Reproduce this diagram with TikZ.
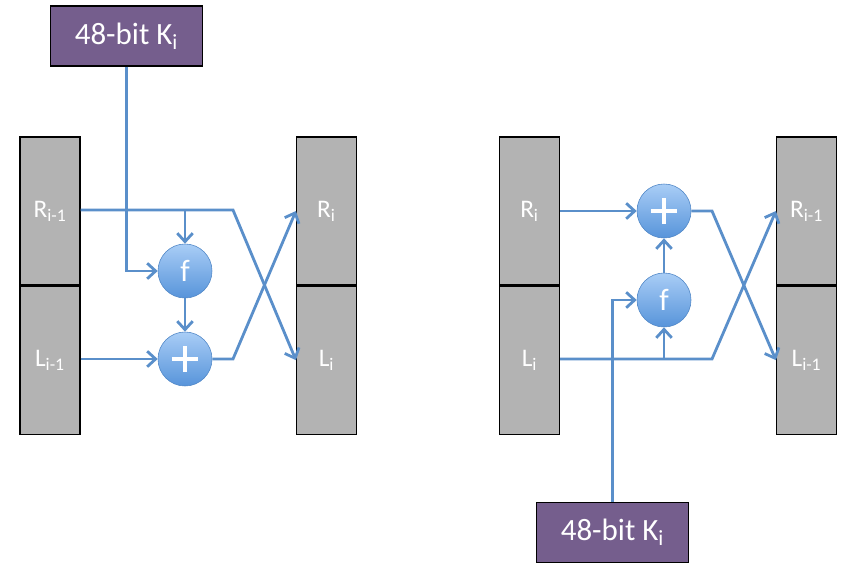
\documentclass[tikz,border=0pt]{standalone}
\usepackage{fontspec}
\setmainfont{Carlito}
\usetikzlibrary{arrows.meta, positioning, calc}
\definecolor{blockgray}{HTML}{B3B3B3}
\definecolor{keypurple}{HTML}{755E8D}
\definecolor{flowblue}{HTML}{5A8FCA}
\definecolor{opedge}{HTML}{4F86C6}
\definecolor{optop}{HTML}{A9CDF6}
\definecolor{opbottom}{HTML}{5794DA}
\def\labelFont{\fontsize{18}{20}\selectfont}
\def\keyFont{\fontsize{22}{24}\selectfont}
\tikzset{% Feistel round styles
  half/.style   = {draw=black, thick, fill=blockgray, rectangle, minimum width=1.5cm,
    minimum height=3.7cm, inner sep=0, text=white, font=\labelFont},
  keybox/.style = {draw=black, thick, fill=keypurple, rectangle, minimum width=3.82cm,
    minimum height=1.5cm, text=white, font=\keyFont},
  op/.style     = {circle, draw=opedge, thin, top color=optop, bottom color=opbottom,
    minimum size=1.35cm, inner sep=0, text=white},
  fbox/.style   = {op, font=\fontsize{22}{22}\selectfont},
  xorbox/.style = {op, path picture={
      \draw[white, line width=3.2pt]
        ([xshift=-0.33cm]path picture bounding box.center) --
        ([xshift=0.33cm]path picture bounding box.center)
        ([yshift=-0.33cm]path picture bounding box.center) --
        ([yshift=0.33cm]path picture bounding box.center);
    }},
  flow/.style   = {draw=flowblue, line width=2pt},
  flowto/.style = {flow, -{Straight Barb[length=6pt, width=11pt, line width=2pt]}},
}
\begin{document}
\begin{tikzpicture}[x=0.025cm, y=-0.025cm]
  \useasboundingbox (0,0) rectangle (845,565);

  % Encryption round
  \node[half] (Rprev) at (50,211) {R\textsubscript{i-1}};
  \node[half, below=0cm of Rprev] (Lprev) {L\textsubscript{i-1}};
  \node[half] (Rnext) at (326.5,211) {R\textsubscript{i}};
  \node[half, below=0cm of Rnext] (Lnext) {L\textsubscript{i}};
  \node[keybox] (Key) at (126.5,36) {48-bit K\textsubscript{i}};

  \node[fbox] (F) at (185,271) {f};
  \node[xorbox] (Xor) at (185,359) {};

  \coordinate (crossA) at (233,210);
  \coordinate (crossB) at (233,359);

  \draw[flowto] (Key) -- (Key |- F) -- (F);
  \draw[flowto] (Rprev.east |- crossA) -- (crossA) -- (Lnext.west);
  \draw[flowto] (F |- crossA) -- (F);
  \draw[flowto] (F) -- (Xor);
  \draw[flowto] (Lprev.east |- Xor) -- (Xor);
  \draw[flowto] (Xor) -- (crossB) -- (Rnext.west);

  % Decryption round
  \node[half] (Rcur) at (529.5,211) {R\textsubscript{i}};
  \node[half, below=0cm of Rcur] (Lcur) {L\textsubscript{i}};
  \node[half] (Rback) at (806.5,211) {R\textsubscript{i-1}};
  \node[half, below=0cm of Rback] (Lback) {L\textsubscript{i-1}};
  \node[keybox] (KeyB) at (612.5,532.5) {48-bit K\textsubscript{i}};

  \node[xorbox] (XorB) at (664,211) {};
  \node[fbox] (FB) at (664,300) {f};

  \coordinate (crossC) at (712,211);
  \coordinate (crossD) at (712,359);

  \draw[flowto] (KeyB) -- (KeyB |- FB) -- (FB);
  \draw[flowto] (Rcur) -- (XorB);
  \draw[flowto] (XorB) -- (crossC) -- (Lback.west);
  \draw[flowto] (Lcur.east |- crossD) -- (crossD) -- (Rback.west);
  \draw[flowto] (FB |- crossD) -- (FB);
  \draw[flowto] (FB) -- (XorB);
\end{tikzpicture}
\end{document}
